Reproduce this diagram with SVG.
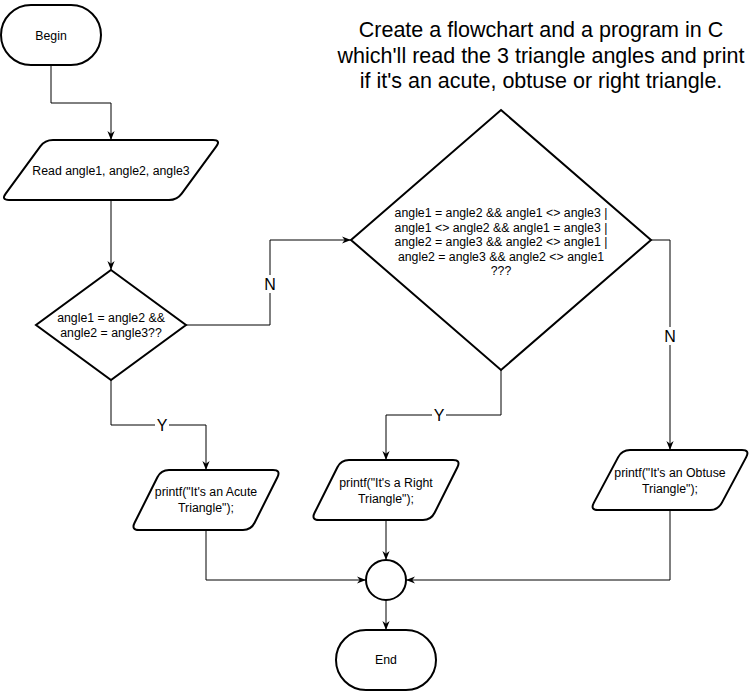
<svg xmlns="http://www.w3.org/2000/svg" width="752" height="692" viewBox="0 0 752 692">
<style>
.sh{fill:#fff;stroke:#000;stroke-width:2}
.cn{fill:none;stroke:#000;stroke-width:1}
.t{font-family:"Liberation Sans",Arial,sans-serif;font-size:12.3px;fill:#000;text-anchor:middle}
.lb{font-family:"Liberation Sans",Arial,sans-serif;font-size:16px;fill:#000;text-anchor:middle}
.title{font-family:"Liberation Sans",Arial,sans-serif;font-size:21.5px;fill:#000;text-anchor:middle}
</style>
<defs>
<marker id="arr" viewBox="0 0 10 10" refX="10" refY="5" markerWidth="9" markerHeight="9" orient="auto" markerUnits="userSpaceOnUse">
<path d="M0,1 L10,5 L0,9 L3,5 z" fill="#000"/>
</marker>
</defs>
<rect width="752" height="692" fill="#fff"/>
<g id="title">
<text class="title" x="541" y="37">Create a flowchart and a program in C</text>
<text class="title" x="541" y="62.5">which'll read the 3 triangle angles and print</text>
<text class="title" x="541" y="88">if it's an acute, obtuse or right triangle.</text>
</g>
<g id="connectors">
<path class="cn" d="M51,65 V103 H111 V140" marker-end="url(#arr)"/>
<path class="cn" d="M111,200 V270" marker-end="url(#arr)"/>
<path class="cn" d="M186,325 H270 V240 H351" marker-end="url(#arr)"/>
<path class="cn" d="M111,380 V425 H206 V470" marker-end="url(#arr)"/>
<path class="cn" d="M651,240 H670 V450" marker-end="url(#arr)"/>
<path class="cn" d="M501,370 V415 H386 V460" marker-end="url(#arr)"/>
<path class="cn" d="M206,530 V580 H366" marker-end="url(#arr)"/>
<path class="cn" d="M386,520 V560" marker-end="url(#arr)"/>
<path class="cn" d="M670,510 V580 H406" marker-end="url(#arr)"/>
<path class="cn" d="M386,600 V630" marker-end="url(#arr)"/>
<g id="labels">
<rect x="262" y="275" width="16" height="18" fill="#fff"/>
<text class="lb" x="270" y="290">N</text>
<rect x="662" y="327" width="16" height="18" fill="#fff"/>
<text class="lb" x="670" y="342">N</text>
<rect x="155" y="416" width="14" height="18" fill="#fff"/>
<text class="lb" x="162" y="431">Y</text>
<rect x="432" y="406" width="14" height="18" fill="#fff"/>
<text class="lb" x="439" y="421">Y</text>
</g>
</g>
<g id="begin">
<rect class="sh" x="1" y="5" width="100" height="60" rx="30" ry="30"/>
<text class="t" x="51" y="40.3">Begin</text>
</g>
<g id="read">
<path class="sh" d="M53,140 L213,140 Q221,140 216.3,146.4 L181.7,193.6 Q177,200 169,200 L9,200 Q1,200 5.7,193.6 L40.3,146.4 Q45,140 53,140 Z"/>
<text class="t" x="111" y="174.5">Read angle1, angle2, angle3</text>
</g>
<g id="decision1">
<path class="sh" d="M111,270 L186,325 L111,380 L36,325 Z"/>
<text class="t" x="111" y="322.3">angle1 = angle2 &amp;&amp;</text>
<text class="t" x="111" y="337">angle2 = angle3??</text>
</g>
<g id="decision2">
<path class="sh" d="M501,110 L651,240 L501,370 L351,240 Z"/>
<text class="t" x="501" y="217">angle1 = angle2 &amp;&amp; angle1 &lt;&gt; angle3 |</text>
<text class="t" x="501" y="231.5">angle1 &lt;&gt; angle2 &amp;&amp; angle1 = angle3 |</text>
<text class="t" x="501" y="246">angle2 = angle3 &amp;&amp; angle2 &lt;&gt; angle1 |</text>
<text class="t" x="501" y="260.5">angle2 = angle3 &amp;&amp; angle2 &lt;&gt; angle1</text>
<text class="t" x="501" y="275">???</text>
</g>
<g id="acute">
<path class="sh" d="M169,470 L273,470 Q281,470 277.4,477.2 L254.6,522.8 Q251,530 243,530 L139,530 Q131,530 134.6,522.8 L157.4,477.2 Q161,470 169,470 Z"/>
<text class="t" x="206" y="496.3">printf("It's an Acute</text>
<text class="t" x="206" y="512.3">Triangle");</text>
</g>
<g id="right">
<path class="sh" d="M349,460 L453,460 Q461,460 457.4,467.2 L434.6,512.8 Q431,520 423,520 L319,520 Q311,520 314.6,512.8 L337.4,467.2 Q341,460 349,460 Z"/>
<text class="t" x="386" y="487">printf("It's a Right</text>
<text class="t" x="386" y="502.5">Triangle");</text>
</g>
<g id="obtuse">
<path class="sh" d="M630,450 L742,450 Q750,450 746.2,457.1 L721.8,502.9 Q718,510 710,510 L598,510 Q590,510 593.8,502.9 L618.2,457.1 Q622,450 630,450 Z"/>
<text class="t" x="670" y="477">printf("It's an Obtuse</text>
<text class="t" x="670" y="492.5">Triangle");</text>
</g>
<g id="join">
<circle class="sh" cx="386" cy="580" r="20"/>
</g>
<g id="end">
<rect class="sh" x="336" y="630" width="100" height="60" rx="30" ry="30"/>
<text class="t" x="386" y="664.3">End</text>
</g>
</svg>
